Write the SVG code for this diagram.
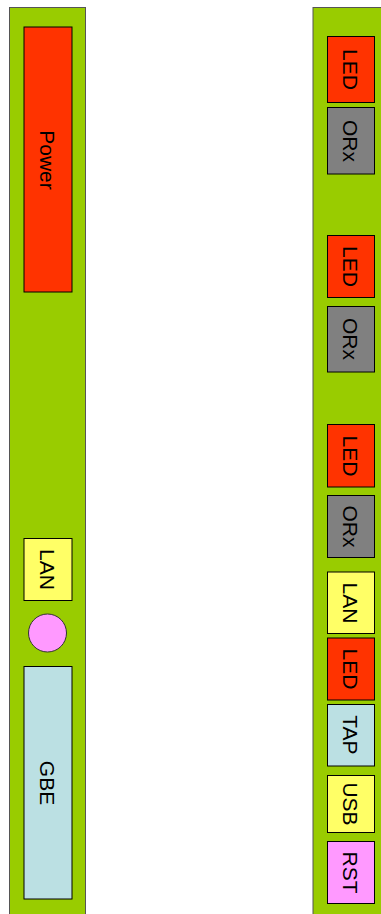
<svg xmlns="http://www.w3.org/2000/svg" width="381" height="914" viewBox="0 0 381 914">
<style>
.panel{fill:#99cc00;stroke:#555555;stroke-width:1}
.box{stroke:#000000;stroke-width:1}
.red{fill:#ff3300}
.gray{fill:#808080}
.yellow{fill:#ffff66}
.blue{fill:#bbe0e3}
.pink{fill:#ff99ff}
text{font-family:"Liberation Sans",Arial,sans-serif;font-size:21px;fill:#000000;text-anchor:middle;dominant-baseline:central}
</style>
<rect fill="#ffffff" x="0" y="0" width="381" height="914"/>
<g id="left-panel"><rect class="panel" x="9.5" y="7.5" width="76" height="910"/></g>
<g id="right-panel"><rect class="panel" x="313" y="7.5" width="80" height="910"/></g>
<g id="power"><rect class="box red" x="24" y="27" width="48" height="265"/><text x="47.5" y="160" transform="rotate(90 47.5 160)">Power</text></g>
<g id="lan-left"><rect class="box yellow" x="24" y="538.5" width="48" height="62"/><text x="47.5" y="569.5" transform="rotate(90 47.5 569.5)">LAN</text></g>
<g id="circle"><circle cx="47.5" cy="633" r="19" fill="#ff99ff" stroke="#333333" stroke-width="1"/></g>
<g id="gbe"><rect class="box blue" x="24" y="666.5" width="48" height="232.5"/><text x="47.5" y="783" transform="rotate(90 47.5 783)">GBE</text></g>
<g id="led1"><rect class="box red" x="327.5" y="36.5" width="47" height="66"/><text x="350.5" y="69.5" transform="rotate(90 350.5 69.5)">LED</text></g>
<g id="orx1"><rect class="box gray" x="327.5" y="107.5" width="47" height="66.5"/><text x="350.5" y="141" transform="rotate(90 350.5 141)">ORx</text></g>
<g id="led2"><rect class="box red" x="327.5" y="235.5" width="47" height="62"/><text x="350.5" y="266.5" transform="rotate(90 350.5 266.5)">LED</text></g>
<g id="orx2"><rect class="box gray" x="327.5" y="306.5" width="47" height="65.5"/><text x="350.5" y="339" transform="rotate(90 350.5 339)">ORx</text></g>
<g id="led3"><rect class="box red" x="327.5" y="424.5" width="47" height="62.5"/><text x="350.5" y="456" transform="rotate(90 350.5 456)">LED</text></g>
<g id="orx3"><rect class="box gray" x="327.5" y="495.5" width="47" height="62"/><text x="350.5" y="526.5" transform="rotate(90 350.5 526.5)">ORx</text></g>
<g id="lan-right"><rect class="box yellow" x="327.5" y="572" width="47" height="61.5"/><text x="350.5" y="603" transform="rotate(90 350.5 603)">LAN</text></g>
<g id="led4"><rect class="box red" x="327.5" y="638" width="47" height="62"/><text x="350.5" y="669" transform="rotate(90 350.5 669)">LED</text></g>
<g id="tap"><rect class="box blue" x="327.5" y="704.5" width="47" height="61.5"/><text x="350.5" y="735" transform="rotate(90 350.5 735)">TAP</text></g>
<g id="usb"><rect class="box yellow" x="327.5" y="775.5" width="47" height="57"/><text x="350.5" y="804" transform="rotate(90 350.5 804)">USB</text></g>
<g id="rst"><rect class="box pink" x="327.5" y="841.5" width="47" height="62"/><text x="350.5" y="872.5" transform="rotate(90 350.5 872.5)">RST</text></g>
<g id="connectors"></g>
</svg>
